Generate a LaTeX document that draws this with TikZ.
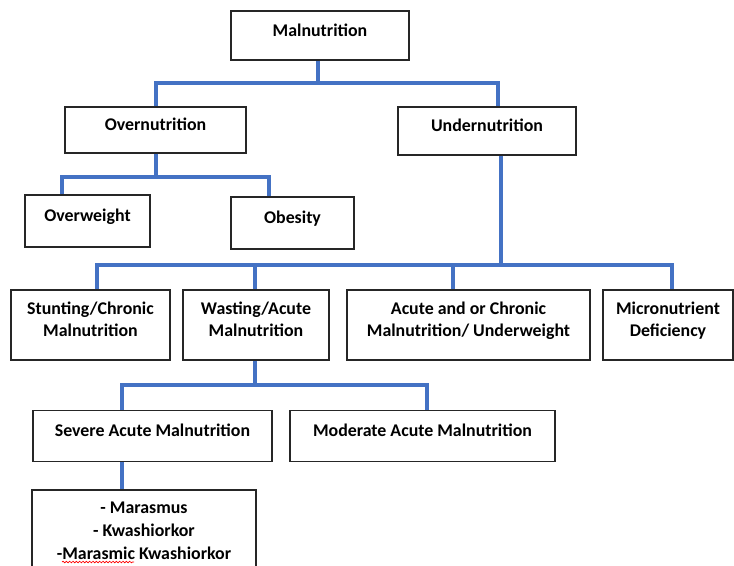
\documentclass[tikz,border=0pt]{standalone}
\usepackage{fontspec}
\setmainfont{Carlito}
\usetikzlibrary{decorations.pathmorphing}
\definecolor{linkblue}{RGB}{68,114,196}

\begin{document}
\begin{tikzpicture}[x=0.75pt, y=-0.75pt,
    box/.style={draw=black!85, line width=0.9pt, rectangle, align=center,
        font=\bfseries\fontsize{13.4}{16.5}\selectfont, text depth=8pt},
    link/.style={draw=linkblue, line width=3pt}]
    \useasboundingbox (0,0) rectangle (734,565);
    % boxes
    \node[box, minimum width=133.5pt, minimum height=36.75pt] (mal) at (320,35.5) {Malnutrition};
    \node[box, minimum width=135.75pt, minimum height=34.5pt] (over) at (155.5,130) {Overnutrition};
    \node[box, minimum width=133.5pt, minimum height=36pt] (under) at (487,131) {Undernutrition};
    \node[box, minimum width=93.75pt, minimum height=39pt] (overweight) at (87.5,221) {Overweight};
    \node[box, minimum width=92.25pt, minimum height=39pt] (obesity) at (292.5,223) {Obesity};
    \node[box, minimum width=119.25pt, minimum height=52.5pt] (stunting) at (90.5,325) {Stunting/Chronic\\Malnutrition};
    \node[box, minimum width=109.5pt, minimum height=52.5pt] (wasting) at (256,325) {Wasting/Acute\\Malnutrition};
    \node[box, minimum width=182.25pt, minimum height=52.5pt] (acute) at (468.5,325) {Acute and or Chronic\\Malnutrition/ Underweight};
    \node[box, minimum width=97.5pt, minimum height=52.5pt] (micro) at (668,325) {Micronutrient\\Deficiency};
    \node[box, minimum width=179.25pt, minimum height=38.25pt] (severe) at (152.5,436) {Severe Acute Malnutrition};
    \node[box, minimum width=198.75pt, minimum height=38.25pt] (moderate) at (422.5,436) {Moderate Acute Malnutrition};
    \node[box, minimum width=168pt, minimum height=69pt,
        font=\bfseries\fontsize{13.4}{17.25}\selectfont] (kinds) at (144,536) {- Marasmus\\- Kwashiorkor\\-Marasmic Kwashiorkor};
    % spell check squiggle
    \draw[red, line width=0.5pt, decorate, decoration={snake, amplitude=0.6pt, segment length=2.5pt}] (62,562) -- (134,562);

    % links
    \coordinate (j1) at (318,83);
    \draw[link] (mal.south -| j1) -- (j1);
    \draw[link] (over.north) |- (j1) -| (under.north -| 498,0);

    \coordinate (j2) at (156,177);
    \draw[link] (over.south -| j2) -- (j2);
    \draw[link] (overweight.north -| 62,0) |- (j2) -| (obesity.north -| 269,0);

    \coordinate (j3) at (501,265);
    \draw[link] (under.south -| j3) -- (j3);
    \draw[link] (stunting.north -| 97,0) |- (j3) -| (micro.north -| 672,0);
    \foreach \n/\x in {wasting/255, acute/453}
        \draw[link] (\n.north -| \x,0) -- (\x,265);

    \coordinate (j4) at (255,385);
    \draw[link] (wasting.south -| j4) -- (j4);
    \draw[link] (severe.north -| 122,0) |- (j4) -| (moderate.north -| 427,0);

    \draw[link] (severe.south -| 122,0) -- (kinds.north -| 122,0);
\end{tikzpicture}
\end{document}
